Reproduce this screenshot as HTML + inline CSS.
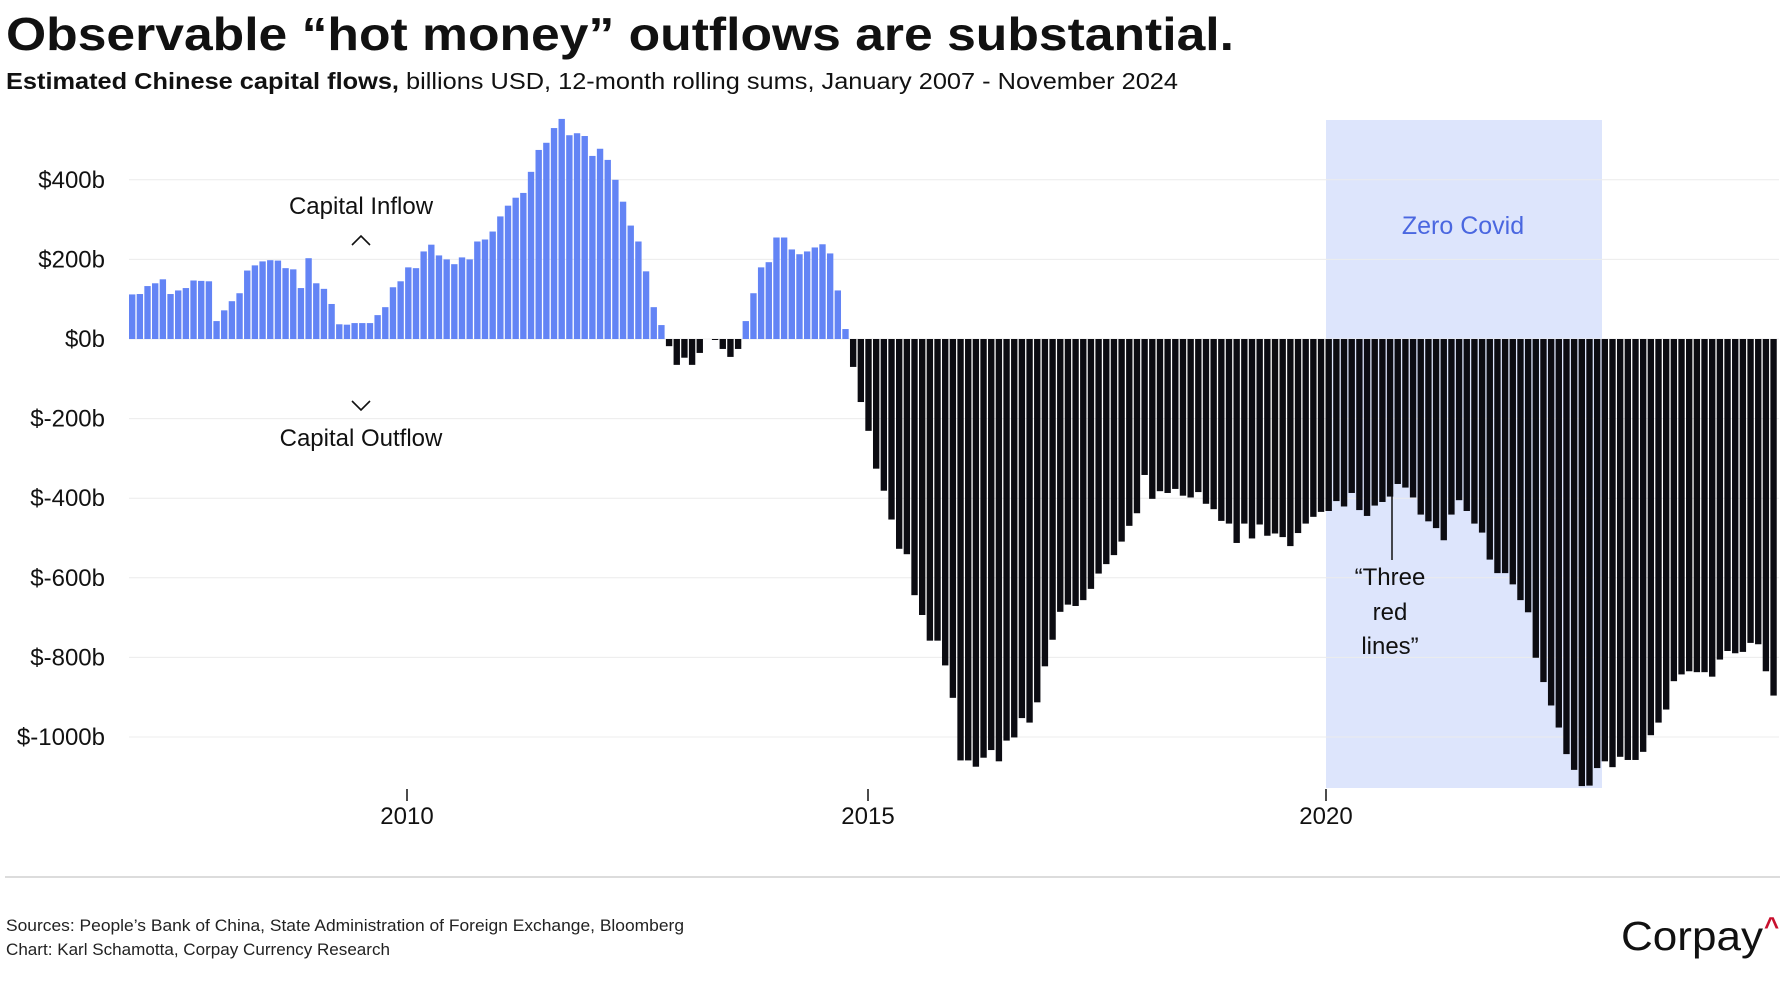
<!DOCTYPE html>
<html><head><meta charset="utf-8"><style>
html,body{margin:0;padding:0;background:#fff;}
svg text{font-family:"Liberation Sans",sans-serif;}
</style></head><body>
<svg id="c" width="1788" height="1000" xmlns="http://www.w3.org/2000/svg">
<rect width="1788" height="1000" fill="#fff"/>
<text x="6" y="50" font-size="46" font-weight="bold" fill="#111" textLength="1228" lengthAdjust="spacingAndGlyphs">Observable “hot money” outflows are substantial.</text>
<text x="6" y="89" font-size="23" fill="#111" textLength="1172" lengthAdjust="spacingAndGlyphs"><tspan font-weight="bold">Estimated Chinese capital flows,</tspan> billions USD, 12-month rolling sums, January 2007 - November 2024</text>
<rect x="1326" y="120" width="276" height="668" fill="#dde5fc"/>
<g id="grid" stroke="#ececec" stroke-width="1"></g>
<g id="bars"></g>
<g font-size="24" fill="#111" text-anchor="end" id="ylab"></g>
<g stroke="#111" stroke-width="1.5">
<line x1="407" y1="789" x2="407" y2="801"/><line x1="868" y1="789" x2="868" y2="801"/><line x1="1326" y1="789" x2="1326" y2="801"/>
</g>
<g font-size="24" fill="#111" text-anchor="middle">
<text x="407" y="824">2010</text><text x="868" y="824">2015</text><text x="1326" y="824">2020</text>
<text x="361" y="214">Capital Inflow</text>
<text x="361" y="446">Capital Outflow</text>
</g>
<polyline points="352,245 361,236 370,245" fill="none" stroke="#111" stroke-width="1.6"/>
<polyline points="352,401 361,410 370,401" fill="none" stroke="#111" stroke-width="1.6"/>
<text x="1463" y="234" font-size="25" fill="#4a67e0" text-anchor="middle">Zero Covid</text>
<line x1="1392" y1="485" x2="1392" y2="560" stroke="#111" stroke-width="1.5"/>
<g font-size="24" fill="#111" text-anchor="middle">
<text x="1390" y="585">“Three</text><text x="1390" y="620">red</text><text x="1390" y="654">lines”</text>
</g>
<line x1="5" y1="877" x2="1780" y2="877" stroke="#dcdcdc" stroke-width="2"/>
<text x="6" y="931" font-size="17" fill="#222" textLength="678" lengthAdjust="spacingAndGlyphs">Sources: People’s Bank of China, State Administration of Foreign Exchange, Bloomberg</text>
<text x="6" y="955" font-size="17" fill="#222" textLength="384" lengthAdjust="spacingAndGlyphs">Chart: Karl Schamotta, Corpay Currency Research</text>
<text x="1621" y="950" font-size="41" fill="#111" textLength="142" lengthAdjust="spacingAndGlyphs">Corpay</text>
<text x="1764" y="935" font-size="26" font-weight="bold" fill="#c8102e">^</text>
</svg>
<script>
var pos=[112,113,133,140,150,113,122,128,147,146,145,45,72,95,115,172,185,195,198,197,178,175,128,203,140,126,88,37,36,40,40,40,60,80,130,145,180,178,220,237,210,200,188,205,200,245,250,270,308,335,355,367,420,475,493,530,553,512,517,510,460,478,450,400,345,285,245,170,80,35,
-18,-65,-47,-65,-35,0,-2,-25,-45,-25,45,115,180,193,255,255,225,213,220,230,238,215,122,25];
var ys=[152,230,294,378,427,491,556,568,659,703,760,760,815,887,1026,1026,1040,1020,1003,1028,982,975,932,942,897,817,758,696,680,683,670,645,611,590,570,540,505,477,392,445,428,432,423,438,442,430,456,468,494,500,543,500,533,502,527,522,530,550,521,500,485,474,472,450,462,432,470,483,460,452,440,412,420,442,480,495,510,537,480,448,472,500,520,580,610,610,635,670,697,798,852,904,953,1012,1047,1083,1082,1043,1028,1041,1018,1025,1025,1007,970,942,913,850,835,828,830,830,840,802,783,788,785,765,768,828,882];
var vals=pos.concat(ys.map(function(y){return -(y-90)/0.884;}));
var NS="http://www.w3.org/2000/svg";
var g=document.getElementById('bars'),gr=document.getElementById('grid'),yl=document.getElementById('ylab');
var z=339,k=0.398,x0=129,p=7.67;
for(var v=400;v>=-1000;v-=200){var y=z-v*k;
 var l=document.createElementNS(NS,'line');l.setAttribute('x1',129);l.setAttribute('x2',1779);l.setAttribute('y1',y);l.setAttribute('y2',y);gr.appendChild(l);
 var t=document.createElementNS(NS,'text');t.setAttribute('x',105);t.setAttribute('y',y+8);t.textContent=(v<0?'$-'+(-v):'$'+v)+'b';yl.appendChild(t);}
for(var i=0;i<vals.length;i++){var v=vals[i];if(Math.abs(v)<0.5)continue;
 var r=document.createElementNS(NS,'rect');r.setAttribute('x',x0+i*p);r.setAttribute('width',p-1.3);
 var h=Math.abs(v)*k;r.setAttribute('y',v>0?z-h:z);r.setAttribute('height',Math.max(h,1));
 r.setAttribute('fill',v>0?'#6384f5':'#0c0c12');g.appendChild(r);}
</script>
</body></html>
